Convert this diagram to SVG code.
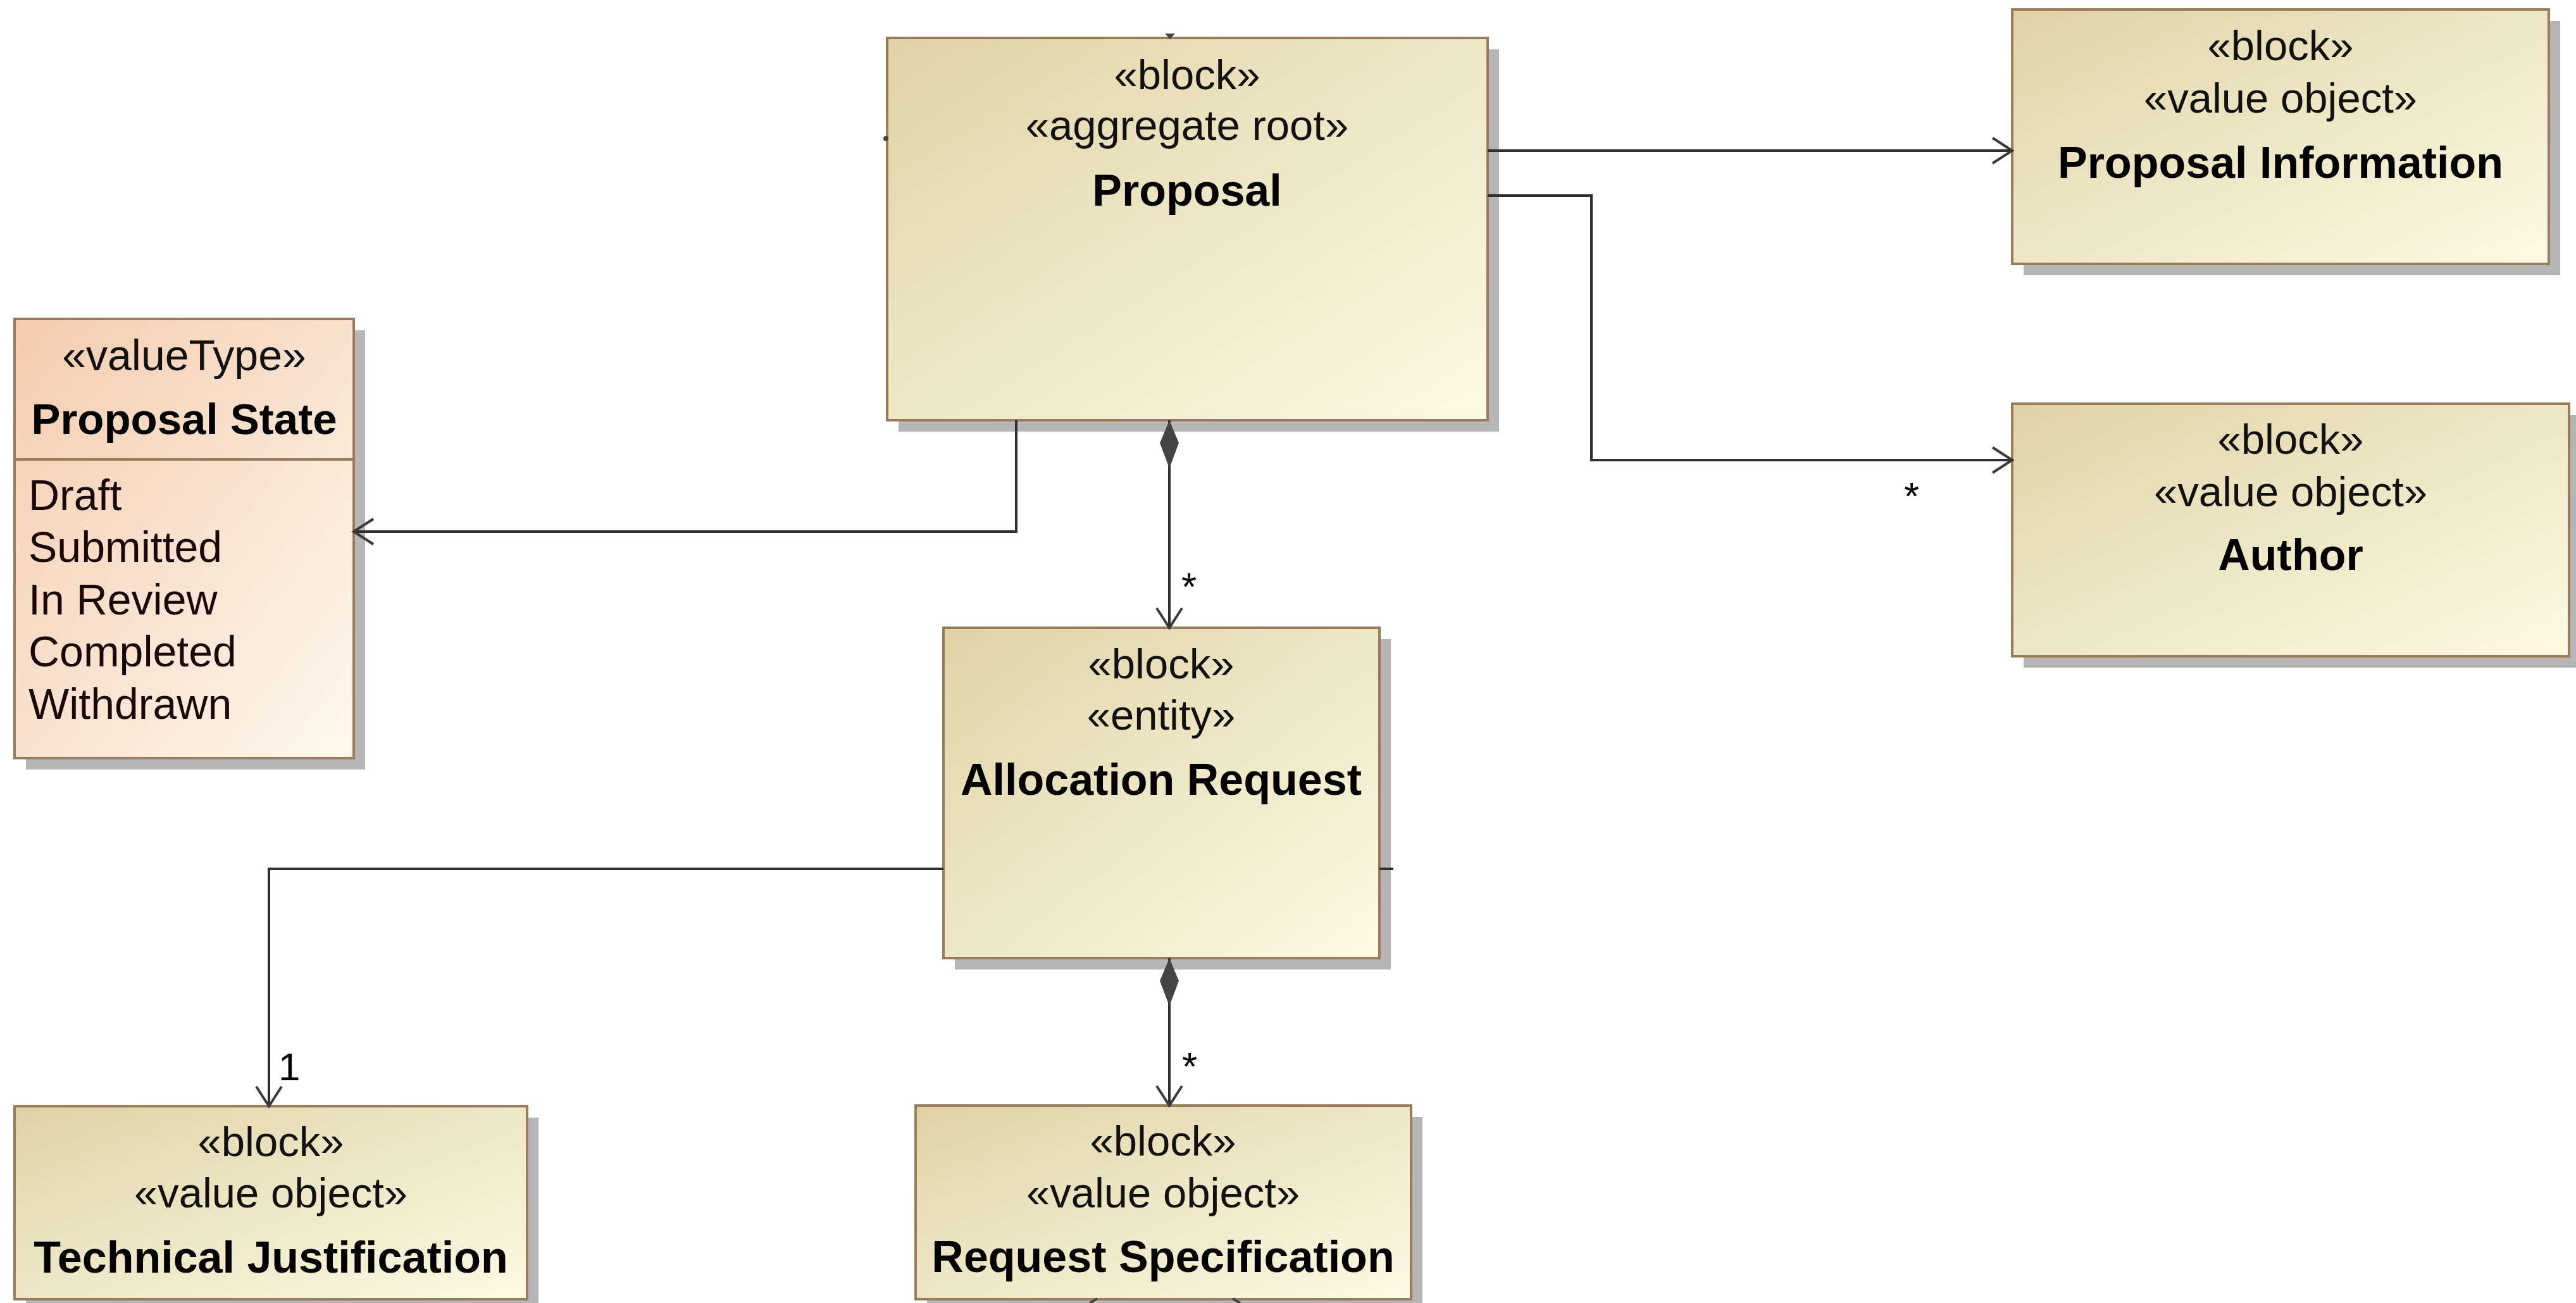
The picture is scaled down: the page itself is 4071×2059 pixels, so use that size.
<svg xmlns="http://www.w3.org/2000/svg" width="4071" height="2059" viewBox="0 0 4071 2059">
<style>
  .box { stroke: #9A7B5C; stroke-width: 4; }
  .blk { fill: url(#blockGrad); }
  .vt { fill: url(#vtGrad); }
  .shadow { fill: #B5B5B5; }
  .st { font-family: "Liberation Sans", Arial, sans-serif; font-size: 67px; fill: #111; text-anchor: middle; }
  .nm { font-family: "Liberation Sans", Arial, sans-serif; font-size: 70px; font-weight: bold; fill: #000; text-anchor: middle; }
  .lit { font-family: "Liberation Sans", Arial, sans-serif; font-size: 68px; fill: #1a0808; }
  .conn { fill: none; stroke: #2f2f2f; stroke-width: 4; }
  .mult { font-family: "Liberation Sans", Arial, sans-serif; font-size: 62px; fill: #000; }
</style>
<defs>
  <linearGradient id="blockGrad" x1="0" y1="0" x2="1" y2="1">
    <stop offset="0" stop-color="#E0D2A6"/>
    <stop offset="0.5" stop-color="#EEE7C6"/>
    <stop offset="1" stop-color="#FCFAE4"/>
  </linearGradient>
  <linearGradient id="vtGrad" x1="0" y1="0" x2="1" y2="1">
    <stop offset="0" stop-color="#F5CCAE"/>
    <stop offset="0.5" stop-color="#F9E2CF"/>
    <stop offset="1" stop-color="#FEF8EC"/>
  </linearGradient>
  <marker id="openArrow" markerUnits="userSpaceOnUse" viewBox="-36 -24 40 48" markerWidth="40" markerHeight="48" refX="0" refY="0" orient="auto">
    <path d="M -31 -20 L 0 0 L -31 20" fill="none" stroke="#3a3a3a" stroke-width="4"/>
  </marker>
  <marker id="diamond" markerUnits="userSpaceOnUse" viewBox="-2 -17 82 34" markerWidth="82" markerHeight="34" refX="0" refY="0" orient="auto">
    <path d="M 0 0 L 36 -15 L 76 0 L 36 15 Z" fill="#444"/>
  </marker>
</defs>

<g id="node-proposal">
  <rect class="shadow" x="1420" y="78" width="949" height="604"/>
  <rect class="box blk" x="1402" y="60" width="949" height="604"/>
  <text class="st" x="1876" y="141">«block»</text>
  <text class="st" x="1876" y="221">«aggregate root»</text>
  <text class="nm" x="1876" y="325">Proposal</text>
</g>

<g id="node-proposal-information">
  <rect class="shadow" x="3198" y="33" width="848" height="402"/>
  <rect class="box blk" x="3180" y="15" width="848" height="402"/>
  <text class="st" x="3604" y="95">«block»</text>
  <text class="st" x="3604" y="178">«value object»</text>
  <text class="nm" x="3604" y="281">Proposal Information</text>
</g>

<g id="node-author">
  <rect class="shadow" x="3198" y="656" width="880" height="399"/>
  <rect class="box blk" x="3180" y="638" width="880" height="399"/>
  <text class="st" x="3620" y="717">«block»</text>
  <text class="st" x="3620" y="800">«value object»</text>
  <text class="nm" x="3620" y="901">Author</text>
</g>

<g id="node-proposal-state">
  <rect class="shadow" x="41" y="522" width="536" height="694"/>
  <rect class="box vt" x="23" y="504" width="536" height="694"/>
  <line x1="23" y1="726" x2="559" y2="726" stroke="#9A7B5C" stroke-width="4"/>
  <text class="st" x="291" y="585" style="font-size:68px">«valueType»</text>
  <text class="nm" x="291" y="686" style="font-size:69px">Proposal State</text>
  <text class="lit" x="45" y="806">Draft</text>
  <text class="lit" x="45" y="888">Submitted</text>
  <text class="lit" x="45" y="971">In Review</text>
  <text class="lit" x="45" y="1053">Completed</text>
  <text class="lit" x="45" y="1136">Withdrawn</text>
</g>

<g id="node-allocation-request">
  <rect class="shadow" x="1509" y="1010" width="689" height="522"/>
  <rect class="box blk" x="1491" y="992" width="689" height="522"/>
  <text class="st" x="1835" y="1072">«block»</text>
  <text class="st" x="1835" y="1153">«entity»</text>
  <text class="nm" x="1835" y="1256">Allocation Request</text>
</g>

<g id="node-technical-justification">
  <rect class="shadow" x="41" y="1766" width="810" height="305"/>
  <rect class="box blk" x="23" y="1748" width="810" height="305"/>
  <text class="st" x="428" y="1827">«block»</text>
  <text class="st" x="428" y="1908">«value object»</text>
  <text class="nm" x="428" y="2011">Technical Justification</text>
</g>

<g id="node-request-specification">
  <rect class="shadow" x="1465" y="1765" width="783" height="306"/>
  <rect class="box blk" x="1447" y="1747" width="783" height="306"/>
  <text class="st" x="1838" y="1826">«block»</text>
  <text class="st" x="1838" y="1908">«value object»</text>
  <text class="nm" x="1838" y="2010">Request Specification</text>
</g>

<g id="connectors">
  <path class="conn" d="M 2351 238 H 3180" marker-end="url(#openArrow)"/>
  <path class="conn" d="M 2351 309 H 2515 V 727 H 3180" marker-end="url(#openArrow)"/>
  <path class="conn" d="M 1606 664 V 840 H 559" marker-end="url(#openArrow)"/>
  <path class="conn" d="M 1848 664 V 992" marker-start="url(#diamond)" marker-end="url(#openArrow)"/>
  <path class="conn" d="M 1848 1514 V 1747" marker-start="url(#diamond)" marker-end="url(#openArrow)"/>
  <path class="conn" d="M 1491 1373 H 425 V 1748" marker-end="url(#openArrow)"/>
  <path class="conn" d="M 2180 1373 H 2202"/>
  <polygon points="1841,53 1857,53 1849,62" fill="#444"/>
  <circle cx="1400" cy="219" r="4" fill="#444"/>
  <path d="M 1722 2059 L 1734 2052" stroke="#444" stroke-width="4" fill="none"/>
  <path d="M 1948 2052 L 1960 2059" stroke="#444" stroke-width="4" fill="none"/>
  <text class="mult" x="1867" y="948">*</text>
  <text class="mult" x="3009" y="805">*</text>
  <text class="mult" x="1868" y="1706">*</text>
  <text class="mult" x="440" y="1707">1</text>
</g>
</svg>
